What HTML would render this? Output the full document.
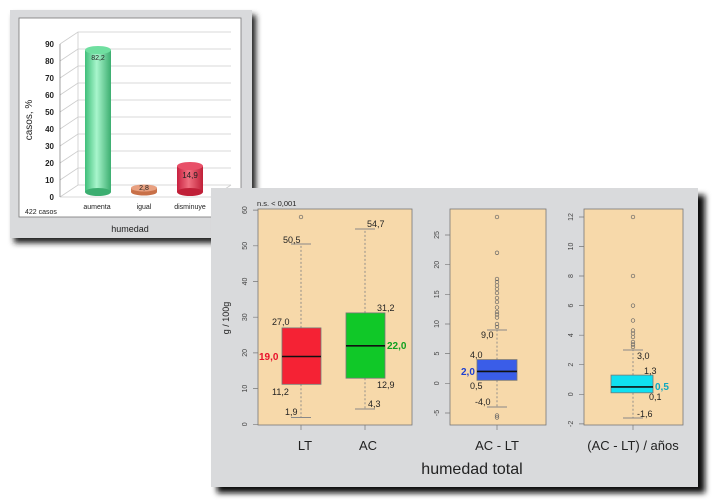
<!DOCTYPE html>
<html><head><meta charset="utf-8"><style>
html,body{margin:0;padding:0;background:#fff;width:714px;height:504px;overflow:hidden}
svg{display:block;font-family:"Liberation Sans",sans-serif}
</style></head><body>
<svg width="714" height="504" viewBox="0 0 714 504">
<defs>
<linearGradient id="gG" x1="0" x2="1"><stop offset="0" stop-color="#3fbf7a"/><stop offset=".45" stop-color="#a8f5cc"/><stop offset="1" stop-color="#3cae70"/></linearGradient>
<linearGradient id="gR" x1="0" x2="1"><stop offset="0" stop-color="#c82040"/><stop offset=".45" stop-color="#f07080"/><stop offset="1" stop-color="#c02038"/></linearGradient>
<linearGradient id="gO" x1="0" x2="1"><stop offset="0" stop-color="#d07a50"/><stop offset=".5" stop-color="#f5b898"/><stop offset="1" stop-color="#c87048"/></linearGradient>
<filter id="sh" x="-5%" y="-5%" width="115%" height="120%"><feGaussianBlur stdDeviation="3"/></filter>
</defs>
<!-- top-left panel -->
<rect x="14" y="15" width="242" height="228" fill="#222" filter="url(#sh)"/>
<rect x="10" y="10" width="242" height="228" fill="#d9dadc"/>
<rect x="19" y="18" width="222" height="199" fill="#fff" stroke="#777" stroke-width="0.8"/>
<g stroke="#ccc" stroke-width="0.8" fill="none">
<path d="M60 197 L78 185 L231 185"/><path d="M60 180 L78 168 L231 168"/><path d="M60 163 L78 151 L231 151"/><path d="M60 146 L78 134 L231 134"/><path d="M60 129 L78 117 L231 117"/><path d="M60 112 L78 100 L231 100"/><path d="M60 95 L78 83 L231 83"/><path d="M60 78 L78 66 L231 66"/><path d="M60 61 L78 49 L231 49"/><path d="M60 44 L78 32 L231 32"/>
<path d="M60 197 L213 197 L231 185"/><path d="M78 32 L78 185"/>
</g>
<path d="M60 44 L60 197" stroke="#888" stroke-width="0.8"/>
<g font-size="8" font-weight="bold" fill="#222" text-anchor="end">
<text x="54" y="200">0</text><text x="54" y="183">10</text><text x="54" y="166">20</text><text x="54" y="149">30</text><text x="54" y="132">40</text><text x="54" y="115">50</text><text x="54" y="98">60</text><text x="54" y="81">70</text><text x="54" y="64">80</text><text x="54" y="47">90</text>
</g>
<text transform="translate(32,120) rotate(-90)" font-size="10" fill="#222" text-anchor="middle">casos,  %</text>
<rect x="85" y="50" width="26" height="142" fill="url(#gG)"/>
<ellipse cx="98" cy="192" rx="13" ry="4" fill="#3cae70"/>
<ellipse cx="98" cy="50" rx="13" ry="4" fill="#6fdfa0"/>
<text x="98" y="60" font-size="7" text-anchor="middle" fill="#222">82,2</text>
<rect x="131" y="188" width="26" height="4" fill="url(#gO)"/>
<ellipse cx="144" cy="192" rx="13" ry="3.5" fill="#c87048"/>
<ellipse cx="144" cy="188" rx="13" ry="3.5" fill="#e8a080"/>
<text x="144" y="190" font-size="7" text-anchor="middle" fill="#222">2,8</text>
<rect x="177" y="166" width="26" height="26" fill="url(#gR)"/>
<ellipse cx="190" cy="192" rx="13" ry="4" fill="#c02038"/>
<ellipse cx="190" cy="166" rx="13" ry="4" fill="#e85068"/>
<text x="190" y="178" font-size="8" text-anchor="middle" fill="#222">14,9</text>
<g font-size="7" fill="#222" text-anchor="middle"><text x="97" y="209">aumenta</text><text x="144" y="209">igual</text><text x="190" y="209">disminuye</text></g>
<text x="25" y="214" font-size="7" fill="#222">422 casos</text>
<text x="130" y="232" font-size="9" text-anchor="middle" fill="#222">humedad</text>

<!-- bottom panel -->
<rect x="217" y="195" width="488" height="298" fill="#111" filter="url(#sh)"/>
<rect x="211" y="188" width="487" height="299" fill="#d9dadc"/>
<g fill="#f7d9aa" stroke="#777" stroke-width="0.8">
<rect x="258" y="209" width="154" height="216"/>
<rect x="450" y="209" width="96" height="216"/>
<rect x="584" y="209" width="99" height="216"/>
</g>
<g stroke="#777" stroke-width="0.7">
<path d="M253 424.3h5M253 388.6h5M253 352.9h5M253 317.2h5M253 281.5h5M253 245.8h5M253 210.1h5"/>
<path d="M445 413h5M445 383.3h5M445 353.6h5M445 324h5M445 294.3h5M445 264.7h5M445 235h5"/>
<path d="M579 423.9h5M579 394.3h5M579 364.7h5M579 335.2h5M579 305.6h5M579 276h5M579 246.5h5M579 217h5"/>
<path d="M301 425v5M365 425v5M497 425v5M633 425v5"/>
</g>
<g font-size="7" fill="#444" text-anchor="middle">
<text transform="translate(247,424.3) rotate(-90)">0</text><text transform="translate(247,388.6) rotate(-90)">10</text><text transform="translate(247,352.9) rotate(-90)">20</text><text transform="translate(247,317.2) rotate(-90)">30</text><text transform="translate(247,281.5) rotate(-90)">40</text><text transform="translate(247,245.8) rotate(-90)">50</text><text transform="translate(247,210.1) rotate(-90)">60</text>
<text transform="translate(439,413) rotate(-90)">-5</text><text transform="translate(439,383.3) rotate(-90)">0</text><text transform="translate(439,353.6) rotate(-90)">5</text><text transform="translate(439,324) rotate(-90)">10</text><text transform="translate(439,294.3) rotate(-90)">15</text><text transform="translate(439,264.7) rotate(-90)">20</text><text transform="translate(439,235) rotate(-90)">25</text>
<text transform="translate(573,423.9) rotate(-90)">-2</text><text transform="translate(573,394.3) rotate(-90)">0</text><text transform="translate(573,364.7) rotate(-90)">2</text><text transform="translate(573,335.2) rotate(-90)">4</text><text transform="translate(573,305.6) rotate(-90)">6</text><text transform="translate(573,276) rotate(-90)">8</text><text transform="translate(573,246.5) rotate(-90)">10</text><text transform="translate(573,217) rotate(-90)">12</text>
</g>
<text x="257" y="206" font-size="7.5" fill="#222">n.s. &lt; 0,001</text>
<text transform="translate(229,318) rotate(-90)" font-size="9" fill="#222" text-anchor="middle">g / 100g</text>
<!-- whiskers -->
<g stroke="#888" stroke-width="0.9" stroke-dasharray="2,2">
<path d="M301 384.3V417.5M301 327.9V244M365 378.2V409M365 312.9V229M497 380.3V407M497 359.6V330M633 392.8V418M633 375.1V350"/>
</g>
<g stroke="#888" stroke-width="1">
<path d="M291 417.5h20M291 244h20M355 409h20M355 229h20M487 407h20M487 330h20M623 418h20M623 350h20"/>
</g>
<rect x="282" y="327.9" width="39" height="56.4" fill="#f52234" stroke="#777" stroke-width="0.8"/>
<rect x="346" y="312.9" width="39" height="65.3" fill="#10c828" stroke="#777" stroke-width="0.8"/>
<rect x="477" y="359.6" width="40" height="20.7" fill="#3a5de8" stroke="#777" stroke-width="0.8"/>
<rect x="611" y="375.1" width="42" height="17.7" fill="#10e0f0" stroke="#777" stroke-width="0.8"/>
<g stroke="#111" stroke-width="1.6">
<path d="M282 356.5h39M346 345.8h39M477 371.4h40M611 386.9h42"/>
</g>
<g fill="none" stroke="#666" stroke-width="0.7">
<circle cx="301" cy="217" r="1.8"/><circle cx="365" cy="217" r="0" />
<circle cx="497" cy="217" r="1.8"/><circle cx="497" cy="252.8" r="1.8"/><circle cx="497" cy="279" r="1.8"/><circle cx="497" cy="282" r="1.8"/><circle cx="497" cy="285.5" r="1.8"/><circle cx="497" cy="289" r="1.8"/><circle cx="497" cy="293" r="1.8"/><circle cx="497" cy="298" r="1.8"/><circle cx="497" cy="302" r="1.8"/><circle cx="497" cy="307.5" r="1.8"/><circle cx="497" cy="312" r="1.8"/><circle cx="497" cy="314.5" r="1.8"/><circle cx="497" cy="317.5" r="1.8"/><circle cx="497" cy="324" r="1.8"/><circle cx="497" cy="327" r="1.8"/><circle cx="497" cy="415.5" r="1.8"/><circle cx="497" cy="417.5" r="1.8"/>
<circle cx="633" cy="217" r="1.8"/><circle cx="633" cy="276" r="1.8"/><circle cx="633" cy="305.6" r="1.8"/><circle cx="633" cy="320.5" r="1.8"/><circle cx="633" cy="330.5" r="1.8"/><circle cx="633" cy="333.5" r="1.8"/><circle cx="633" cy="337" r="1.8"/><circle cx="633" cy="342" r="1.8"/><circle cx="633" cy="344.5" r="1.8"/><circle cx="633" cy="347" r="1.8"/>
</g>
<g font-size="9" fill="#222">
<text x="283" y="243">50,5</text><text x="272" y="325">27,0</text><text x="272" y="395">11,2</text><text x="285" y="415">1,9</text>
<text x="367" y="227">54,7</text><text x="377" y="311">31,2</text><text x="377" y="388">12,9</text><text x="368" y="407">4,3</text>
<text x="481" y="338">9,0</text><text x="470" y="358">4,0</text><text x="470" y="389">0,5</text><text x="475" y="405">-4,0</text>
<text x="637" y="359">3,0</text><text x="644" y="374">1,3</text><text x="649" y="400">0,1</text><text x="637" y="417">-1,6</text>
</g>
<g font-size="10" font-weight="bold">
<text x="259" y="360" fill="#e8102a">19,0</text>
<text x="387" y="349" fill="#10a020">22,0</text>
<text x="461" y="375" fill="#2040d0">2,0</text>
<text x="655" y="390" fill="#10a8c0">0,5</text>
</g>
<g font-size="13" fill="#222" text-anchor="middle">
<text x="305" y="450">LT</text><text x="368" y="450">AC</text><text x="497" y="450">AC - LT</text><text x="633" y="450">(AC - LT) / años</text>
</g>
<text x="472" y="474" font-size="16" fill="#222" text-anchor="middle">humedad total</text>
</svg>
</body></html>
